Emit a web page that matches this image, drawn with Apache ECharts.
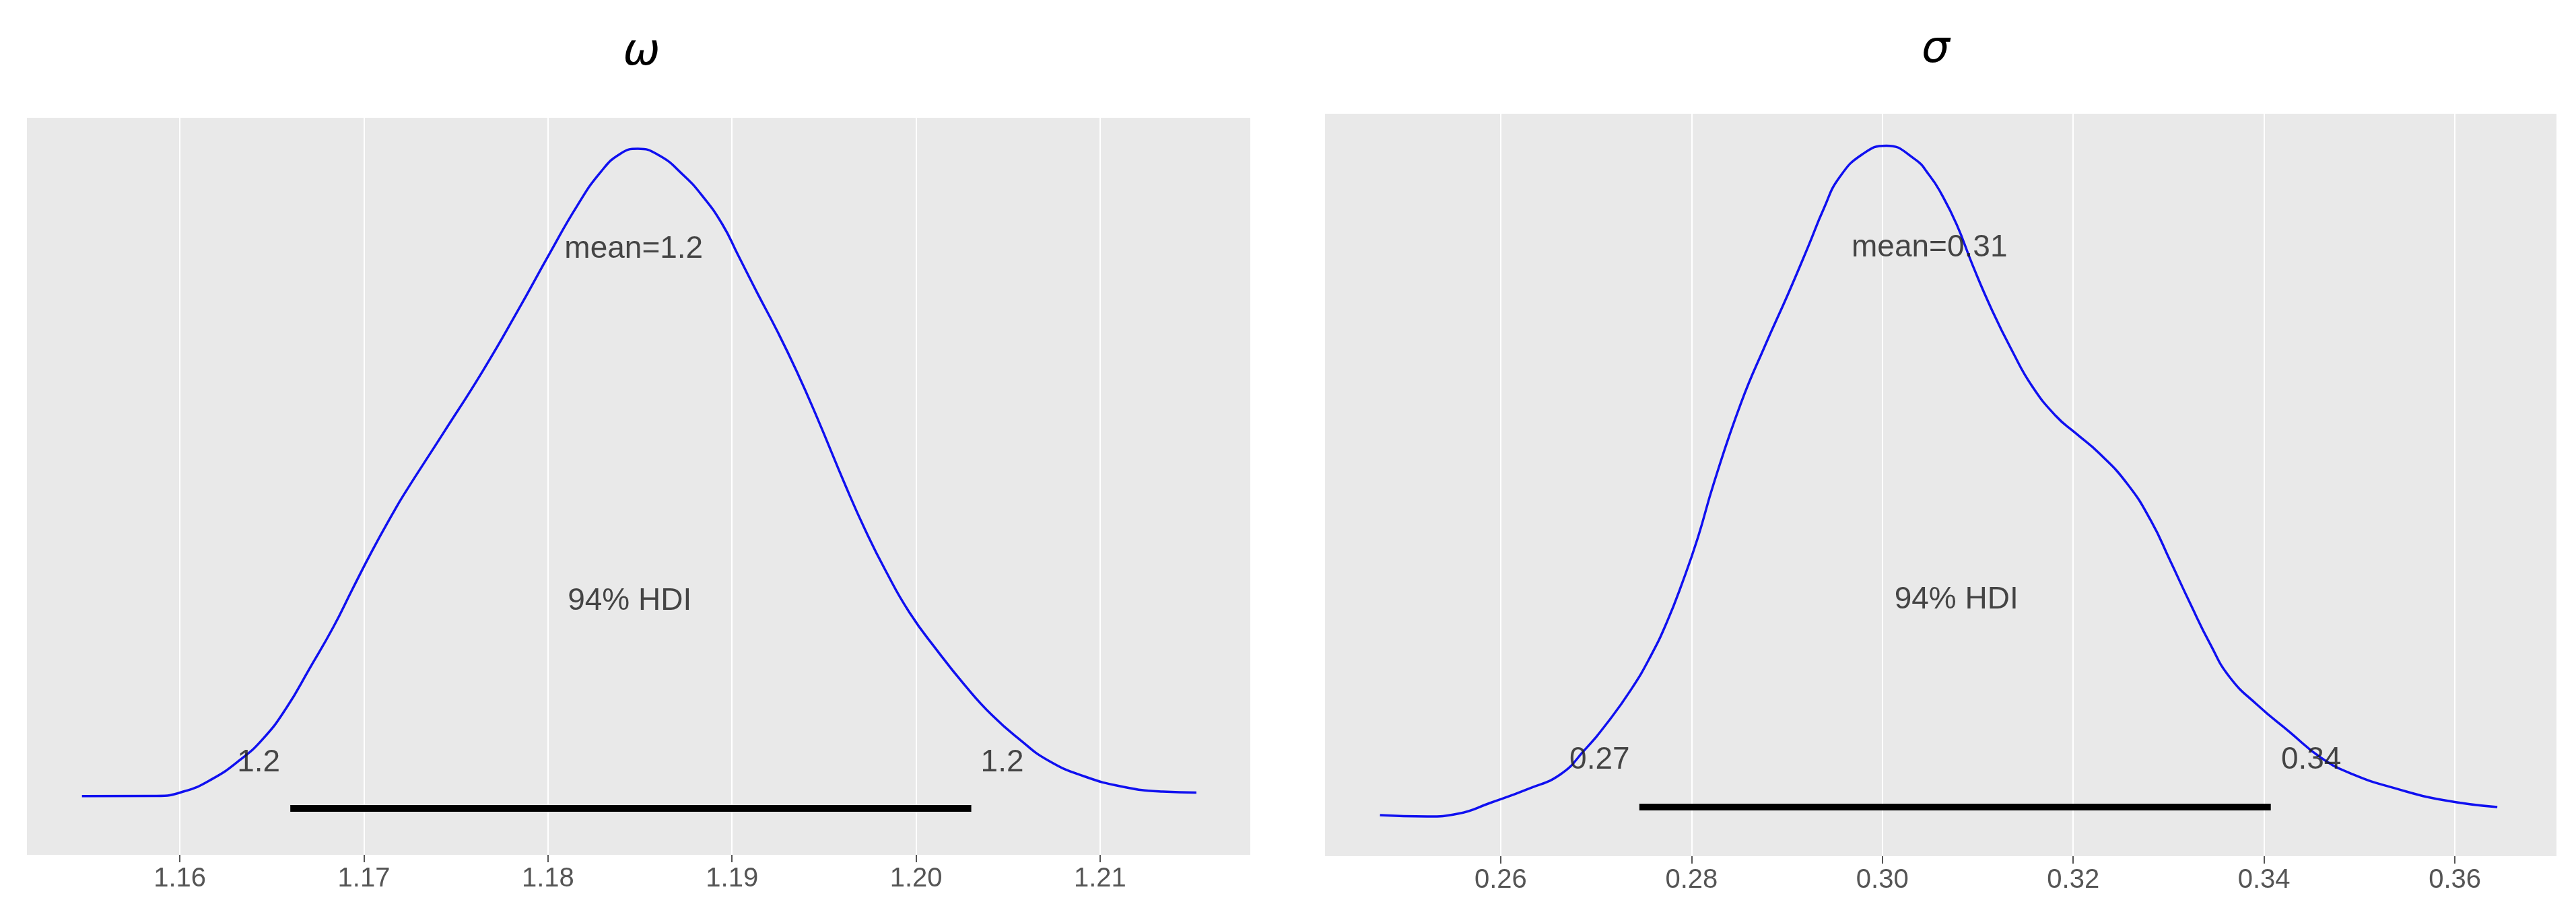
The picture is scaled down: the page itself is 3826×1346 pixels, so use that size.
<!DOCTYPE html>
<html>
<head>
<meta charset="utf-8">
<script src="https://cdn.jsdelivr.net/npm/echarts@6/dist/echarts.min.js"></script>
<style>html,body{margin:0;padding:0;background:#fff;}#c{width:3826px;height:1346px;}</style>
</head>
<body>
<div id="c"></div>
<script>
// ---- omega posterior (KDE) ----
const omegaX = [1.15468,1.15874,1.16022,1.16172,1.16322,1.16450,1.16578,1.16706,1.16834,1.16940,1.17046,1.17155,1.17218,1.17431,1.17647,1.17837,1.18009,1.18159,1.18287,1.18393,1.18488,1.18605,1.18733,1.18839,1.18947,1.19033,1.19139,1.19246,1.19352,1.19460,1.19619,1.19725,1.19835,1.19963,1.20113,1.20263,1.20413,1.20566,1.20716,1.20910,1.21126,1.21340,1.21523];
const omegaDensity = [0.75,0.76,1.03,1.76,2.90,4.20,6.08,8.51,11.00,13.35,15.65,17.85,19.05,22.75,26.55,30.20,33.65,36.55,38.60,39.70,40.00,39.59,38.43,37.14,35.43,33.55,31.22,28.94,26.49,23.76,19.51,16.86,14.41,11.90,9.60,7.50,5.65,4.15,2.92,1.96,1.31,1.02,0.96];
const omegaHdi = [1.1660, 1.2030];
const omegaTicks = [1.16, 1.17, 1.18, 1.19, 1.20, 1.21];
const omegaLabels = ['mean=1.2', '94% HDI', '1.2', '1.2'];
const omegaLabelX = [1.18466, 1.18444, 1.16428, 1.20468];
const omegaLabelY = [33.9, 12.57, 2.76, 2.76];

// ---- sigma posterior ----
const sigmaX = [0.24735,0.25229,0.25556,0.25887,0.26296,0.26628,0.26875,0.27122,0.27369,0.27573,0.27740,0.27905,0.28067,0.28234,0.28519,0.28769,0.29012,0.29224,0.29386,0.29549,0.29795,0.30042,0.30332,0.30497,0.30614,0.30780,0.30945,0.31153,0.31362,0.31566,0.31817,0.32025,0.32272,0.32568,0.32815,0.33019,0.33228,0.33436,0.33640,0.33934,0.34265,0.34600,0.34931,0.35386,0.35884,0.36445];
const sigmaDensity = [0.21,0.16,0.26,0.63,1.13,1.63,2.46,3.44,4.59,5.75,6.91,8.31,9.87,11.76,14.55,16.53,18.34,20.00,21.31,22.39,23.21,23.50,23.05,22.45,21.85,20.75,19.35,17.75,16.35,15.15,14.10,13.50,12.80,11.73,10.45,9.04,7.56,6.16,5.01,4.03,3.11,2.20,1.63,1.13,0.73,0.49];
const sigmaHdi = [0.27453, 0.34071];
const sigmaTicks = [0.26, 0.28, 0.30, 0.32, 0.34, 0.36];
const sigmaLabels = ['mean=0.31', '94% HDI', '0.27', '0.34'];
const sigmaLabelX = [0.30494, 0.30776, 0.27037, 0.34494];
const sigmaLabelY = [19.95, 7.70, 2.12, 2.12];

const titles = ['ω', 'σ'];

const FONT = 'Liberation Sans, Arial, sans-serif';
const zip = (a, b) => a.map((v, i) => [v, b[i]]);
const labelPts = (xs, ys, names) => xs.map((x, i) => ({ value: [x, ys[i]], name: names[i] }));

function xAxisCfg(idx, min, max, ticks) {
  return {
    gridIndex: idx, type: 'value', min: min, max: max,
    axisLine: { show: false, onZero: false },
    axisTick: { show: true, customValues: ticks, length: 11, lineStyle: { color: '#555', width: 2 } },
    axisLabel: { customValues: ticks, formatter: v => v.toFixed(2), fontSize: 40, color: '#555', margin: 16, fontFamily: FONT },
    splitLine: { show: false }
  };
}

function seriesFor(idx, xs, ds, hdi, hdiLevel, lx, ly, names, ticks) {
  return [
    {
      type: 'line', xAxisIndex: idx, yAxisIndex: idx, data: [], z: 1, silent: true,
      markLine: {
        silent: true, symbol: 'none', animation: false, z: 1,
        label: { show: false },
        lineStyle: { color: '#ffffff', width: 2, type: 'solid' },
        emphasis: { disabled: true },
        data: ticks.map(v => ({ xAxis: v }))
      }
    },
    {
      type: 'line', xAxisIndex: idx, yAxisIndex: idx, data: zip(xs, ds),
      showSymbol: false, smooth: 0.5, lineStyle: { color: '#1010f0', width: 3.5 }, z: 3
    },
    {
      type: 'line', xAxisIndex: idx, yAxisIndex: idx, data: [[hdi[0], hdiLevel], [hdi[1], hdiLevel]],
      showSymbol: false, lineStyle: { color: '#000', width: 10, cap: 'butt' }, z: 2
    },
    {
      type: 'scatter', xAxisIndex: idx, yAxisIndex: idx, data: labelPts(lx, ly, names),
      symbolSize: 0, z: 5,
      label: { show: true, position: 'inside', formatter: '{b}', fontSize: 46, color: '#1a1a1a', fontFamily: FONT }
    }
  ];
}

const chart = echarts.init(document.getElementById('c'), null, { renderer: 'canvas' });
chart.setOption({
  animation: false,
  backgroundColor: '#ffffff',
  title: [
    { text: titles[0], left: 953, top: 46, textAlign: 'center', padding: 0,
      textStyle: { fontSize: 66, fontStyle: 'italic', fontWeight: 'normal', color: '#000', fontFamily: 'DejaVu Sans' } },
    { text: titles[1], left: 2875, top: 42, textAlign: 'center', padding: 0,
      textStyle: { fontSize: 66, fontStyle: 'italic', fontWeight: 'normal', color: '#000', fontFamily: 'DejaVu Sans' } }
  ],
  grid: [
    { left: 40, top: 175, width: 1817, height: 1095, show: true, backgroundColor: '#e9e9e9', borderWidth: 0 },
    { left: 1968, top: 169, width: 1829, height: 1103, show: true, backgroundColor: '#e9e9e9', borderWidth: 0 }
  ],
  xAxis: [
    xAxisCfg(0, 1.15169, 1.21816, omegaTicks),
    xAxisCfg(1, 0.24159, 0.37065, sigmaTicks)
  ],
  yAxis: [
    { gridIndex: 0, type: 'value', min: -2.816, max: 41.88, show: false },
    { gridIndex: 1, type: 'value', min: -1.22, max: 24.61, show: false }
  ],
  series: [].concat(
    seriesFor(0, omegaX, omegaDensity, omegaHdi, 0, omegaLabelX, omegaLabelY, omegaLabels, omegaTicks),
    seriesFor(1, sigmaX, sigmaDensity, sigmaHdi, 0.49, sigmaLabelX, sigmaLabelY, sigmaLabels, sigmaTicks)
  )
});
</script>
</body>
</html>
